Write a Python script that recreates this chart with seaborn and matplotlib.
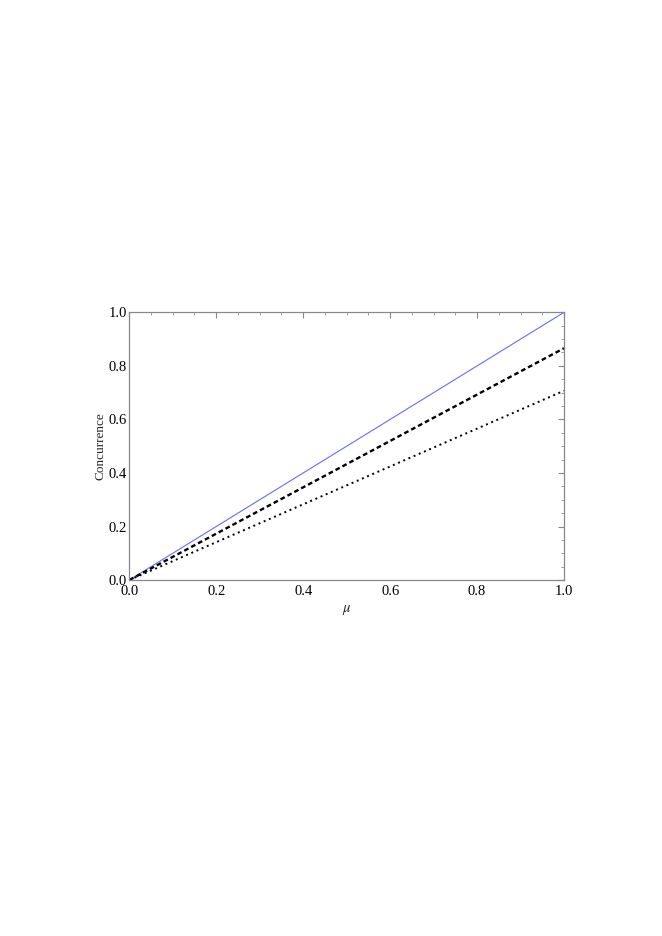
import numpy as np
import pandas as pd
import matplotlib
matplotlib.use("Agg")
import matplotlib.pyplot as plt
import seaborn as sns

sns.set_theme(style="white")
plt.rcParams['font.family'] = ['Liberation Serif', 'DejaVu Serif']
plt.rcParams['mathtext.fontset'] = 'stix'

# values
mu = [0.0, 0.25, 0.5, 0.75, 1.0]
c_blue = [0.0, 0.25, 0.5, 0.75, 1.0]
c_dashed = [0.0, 0.2165, 0.433, 0.6495, 0.866]
c_dotted = [0.0, 0.1768, 0.3536, 0.5303, 0.7071]

df = pd.DataFrame({
    "mu": mu * 3,
    "C": c_blue + c_dashed + c_dotted,
    "curve": ["a"] * 5 + ["b"] * 5 + ["c"] * 5,
})

fig = plt.figure(figsize=(6.62, 9.36), dpi=100)
ax = fig.add_axes([0.1953, 0.3803, 0.6567, 0.286])

sns.lineplot(data=df, x="mu", y="C", hue="curve", style="curve",
             palette={"a": "#6b6bff", "b": "black", "c": "black"},
             dashes={"a": "", "b": (2.0, 1.3), "c": (1.0, 1.9)},
             size="curve", sizes={"a": 0.8, "b": 1.7, "c": 1.4},
             legend=False, ax=ax)

ax.set_xlim(0, 1)
ax.set_ylim(0, 1)
ax.set_xticks(np.arange(0, 1.01, 0.2))
ax.set_yticks(np.arange(0, 1.01, 0.2))
ax.set_xticks(np.arange(0, 1.01, 0.05), minor=True)
ax.set_yticks(np.arange(0, 1.01, 0.05), minor=True)
ax.set_xticklabels(["0.0", "0.2", "0.4", "0.6", "0.8", "1.0"])
ax.set_yticklabels(["0.0", "0.2", "0.4", "0.6", "0.8", "1.0"])
ax.tick_params(which="both", direction="in", top=True, right=True,
               color="#888888", labelsize=10.5, labelcolor="black", pad=1.5)
ax.tick_params(axis="x", which="major", pad=3.5)
ax.tick_params(which="major", length=4, width=0.8)
ax.tick_params(which="minor", length=2, width=0.6)
for s in ax.spines.values():
    s.set_color("#888888")
    s.set_linewidth(0.9)

ax.set_xlabel(r"$\mu$", fontsize=10.5, labelpad=4)
ax.set_ylabel("Concurrence", fontsize=9.5, labelpad=2)

fig.savefig("out.png", dpi=100)
